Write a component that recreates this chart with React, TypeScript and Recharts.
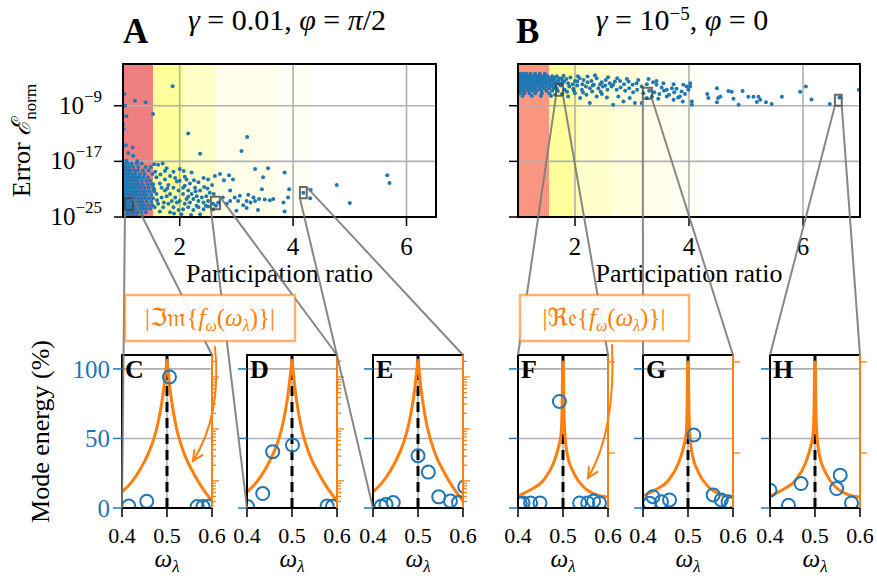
import React from "react";
import {
  ComposedChart,
  ScatterChart,
  Scatter,
  Line,
  XAxis,
  YAxis,
  ReferenceArea,
  ReferenceLine,
} from "recharts";

const BLUE = "#1f77b4";
const ORANGE = "#ff7f0e";
const GRID = "#b0b0b0";
const SERIF = "Liberation Serif, Tinos, Times New Roman, DejaVu Serif, serif";

// ---- top panels: participation ratio vs log10(error)
// dense cloud, rows of [log10 error, participation ratios]
const A_DENSE_ROWS: [number, number[]][] = [
  [-17.3, [1.02, 1.08, 1.15, 1.24, 1.33]],
  [-17.8, [1.0, 1.05, 1.11, 1.18, 1.27, 1.4, 1.49]],
  [-18.3, [1.03, 1.08, 1.13, 1.2, 1.26, 1.35, 1.45]],
  [-18.8, [1.0, 1.05, 1.1, 1.16, 1.22, 1.3, 1.38, 1.52]],
  [-19.3, [1.02, 1.07, 1.12, 1.18, 1.24, 1.29, 1.36, 1.44]],
  [-19.8, [1.0, 1.04, 1.09, 1.14, 1.2, 1.26, 1.33, 1.41, 1.48]],
  [-20.3, [1.02, 1.07, 1.12, 1.17, 1.23, 1.28, 1.35, 1.43, 1.5]],
  [-20.8, [1.0, 1.05, 1.1, 1.15, 1.2, 1.25, 1.31, 1.38, 1.45, 1.53]],
  [-21.3, [1.02, 1.07, 1.12, 1.17, 1.22, 1.28, 1.34, 1.4, 1.47, 1.55]],
  [-21.8, [1.0, 1.04, 1.09, 1.14, 1.19, 1.24, 1.3, 1.36, 1.42, 1.5]],
  [-22.3, [1.02, 1.06, 1.11, 1.16, 1.21, 1.27, 1.33, 1.39, 1.46, 1.53]],
  [-22.8, [1.0, 1.04, 1.08, 1.13, 1.18, 1.23, 1.29, 1.35, 1.42, 1.5]],
  [-23.3, [1.02, 1.06, 1.1, 1.15, 1.2, 1.26, 1.32, 1.38, 1.45, 1.52]],
  [-23.8, [1.0, 1.04, 1.08, 1.12, 1.17, 1.23, 1.29, 1.35, 1.41, 1.48]],
  [-24.3, [1.02, 1.06, 1.1, 1.15, 1.2, 1.26, 1.32, 1.4]],
  [-24.8, [1.0, 1.05, 1.1, 1.17, 1.24, 1.33]],
];

const A_MID: [number, number][] = [
  [1.55, -17.4], [1.62, -17.5], [1.7, -17.3], [1.57, -18.5], [1.77, -18.0], [1.89, -18.5],
  [2.0, -18.1], [2.07, -18.4], [2.21, -18.6], [2.09, -19.2], [2.25, -19.7], [2.33, -20.0],
  [2.42, -19.4], [2.5, -19.6], [2.57, -20.4], [2.62, -19.1], [2.43, -20.7], [2.49, -20.9],
  [2.53, -21.5], [2.6, -21.7], [2.36, -21.2], [2.27, -20.8], [2.18, -20.2], [2.09, -20.5],
  [2.0, -19.8], [1.92, -19.4], [1.83, -19.1], [1.74, -19.6], [1.65, -20.2], [1.59, -19.3],
  [1.8, -20.4], [1.89, -20.8], [1.98, -21.2], [2.06, -21.7], [2.15, -22.1], [2.24, -22.4],
  [2.33, -22.7], [2.42, -22.9], [2.5, -22.7], [2.59, -23.1], [2.68, -22.9], [2.18, -22.9],
  [2.09, -23.1], [2.0, -22.7], [1.92, -22.2], [1.83, -21.7], [1.74, -21.2], [1.68, -22.2],
  [1.59, -21.7], [1.62, -23.1], [1.71, -23.6], [1.8, -23.1], [1.89, -23.6], [1.98, -24.0],
  [2.06, -23.9], [2.15, -23.6], [2.24, -24.0], [2.33, -23.6], [2.42, -23.9], [2.5, -23.5],
  [2.59, -23.9], [2.36, -24.6], [2.03, -24.6], [1.83, -24.3], [1.65, -24.2], [1.56, -23.6],
  [1.77, -22.0], [1.86, -22.7], [1.95, -22.9], [2.12, -22.4], [2.21, -21.7], [2.3, -22.0],
  [2.39, -22.2], [2.47, -22.0], [2.3, -23.4], [2.46, -23.4], [2.64, -23.4], [2.06, -20.8],
  [2.15, -21.2], [1.68, -20.8], [1.78, -20.9], [1.53, -20.3], [1.55, -21.0], [1.6, -22.6],
  [1.72, -22.9], [1.66, -18.9], [1.74, -18.4], [1.95, -19.9], [2.12, -19.6], [2.28, -21.3],
  [1.9, -24.5], [2.2, -24.7],
];

const A_SPARSE: [number, number][] = [
  [1.02, -7.33], [1.035, -9.0], [1.06, -10.5], [1.21, -8.3], [1.4, -8.5], [1.53, -10.2],
  [1.875, -6.2], [2.15, -13.0], [2.36, -15.9], [3.19, -13.5], [3.09, -15.5], [1.0, -11.7],
  [1.01, -12.4], [1.05, -14.7], [1.17, -15.0], [1.09, -15.8], [1.18, -16.2], [1.06, -16.9],
  [1.25, -17.0], [2.71, -18.8], [2.87, -19.0], [2.78, -19.7], [2.94, -19.6], [3.33, -18.1],
  [3.56, -18.0], [3.85, -18.6], [3.47, -19.3], [3.45, -21.0], [3.21, -21.8], [3.06, -21.95],
  [2.89, -21.2], [2.97, -22.2], [3.18, -22.7], [3.3, -22.2], [3.33, -22.7], [3.5, -22.5],
  [3.65, -22.4], [3.83, -22.9], [3.91, -22.2], [3.93, -21.0], [3.85, -24.2], [3.38, -24.0],
  [3.18, -23.7], [3.0, -24.1], [2.83, -23.1], [4.18, -21.5], [4.31, -21.1], [4.3, -22.3],
  [4.77, -20.4], [5.0, -23.0], [5.66, -19.0], [5.7, -20.1], [2.89, -22.7], [3.03, -22.7],
  [3.12, -23.3], [2.76, -22.2], [3.59, -22.6], [3.25, -22.9], [3.4, -22.4],
];

const B_DENSE_ROWS: [number, number[]][] = [
  [-4.4, [1.0, 1.04, 1.09, 1.15, 1.22, 1.3, 1.38, 1.47]],
  [-4.75, [1.0, 1.05, 1.1, 1.15, 1.2, 1.25, 1.3, 1.35, 1.4, 1.46, 1.52, 1.6, 1.68]],
  [-5.1, [1.02, 1.07, 1.12, 1.17, 1.22, 1.27, 1.32, 1.37, 1.42, 1.47, 1.53, 1.58, 1.64, 1.72]],
  [-5.45, [1.0, 1.05, 1.1, 1.15, 1.2, 1.25, 1.3, 1.35, 1.4, 1.45, 1.5, 1.56, 1.62, 1.7, 1.78]],
  [-5.8, [1.02, 1.07, 1.12, 1.17, 1.22, 1.27, 1.32, 1.37, 1.42, 1.48, 1.54, 1.6, 1.67, 1.75]],
  [-6.15, [1.0, 1.05, 1.1, 1.15, 1.2, 1.25, 1.31, 1.37, 1.43, 1.5, 1.57, 1.65]],
  [-6.5, [1.03, 1.09, 1.16, 1.23, 1.3, 1.38, 1.46, 1.55, 1.63]],
  [-6.85, [1.0, 1.06, 1.12, 1.19, 1.26, 1.33, 1.41, 1.5, 1.6]],
  [-7.2, [1.03, 1.11, 1.2, 1.3, 1.42, 1.55]],
  [-7.6, [1.08, 1.24, 1.4, 1.58]],
];

const B_MID: [number, number][] = [
  [1.62, -4.95], [1.71, -5.29], [1.77, -5.05], [1.85, -5.14], [1.92, -4.95], [2.0, -5.43],
  [2.08, -5.05], [2.15, -5.29], [2.22, -4.81], [2.29, -5.43], [2.38, -5.05], [2.47, -5.62],
  [2.54, -5.29], [2.61, -5.76], [2.7, -5.52], [2.79, -5.43], [2.86, -5.9], [2.94, -5.52],
  [3.01, -6.0], [3.08, -5.76], [3.17, -6.24], [3.26, -5.9], [3.37, -5.62], [3.43, -6.0],
  [3.52, -6.38], [3.61, -6.71], [3.7, -6.48], [3.78, -6.57], [3.87, -6.95], [3.96, -6.24],
  [3.99, -6.71], [1.62, -6.24], [1.68, -6.48], [1.75, -6.1], [1.82, -6.71], [1.9, -6.24],
  [1.97, -6.57], [2.04, -6.1], [2.12, -6.71], [2.19, -6.24], [2.26, -6.48], [2.33, -6.0],
  [2.41, -6.48], [2.49, -6.24], [2.57, -6.71], [2.64, -6.24], [2.73, -6.71], [2.8, -6.38],
  [2.88, -6.86], [2.95, -6.48], [3.02, -7.05], [3.09, -6.71], [3.2, -7.19], [3.3, -6.86],
  [3.39, -7.05], [3.48, -7.33], [3.56, -6.86], [3.65, -7.43], [3.74, -7.05], [3.84, -7.67],
  [3.93, -7.33], [1.65, -5.62], [1.73, -5.9], [1.81, -5.52], [1.88, -5.76], [1.96, -5.9],
  [2.04, -5.52], [2.13, -5.9], [2.22, -5.62], [2.31, -6.1], [2.44, -5.9], [2.53, -6.1],
  [2.67, -6.0], [2.74, -5.05], [2.91, -5.14], [3.11, -5.29], [3.29, -5.14], [3.43, -5.43],
  [3.55, -5.76], [3.73, -5.9], [3.9, -6.0], [4.02, -5.76], [1.65, -7.43], [1.77, -7.33],
  [1.88, -7.67], [2.0, -7.19], [2.09, -7.9], [2.2, -7.43], [2.26, -8.62], [2.38, -7.67],
  [2.47, -7.33], [2.56, -7.81], [2.67, -8.86], [2.76, -7.67], [2.85, -8.38], [2.96, -7.9],
  [3.05, -8.62], [3.17, -8.62], [3.26, -7.9], [3.35, -7.67], [3.46, -8.0], [3.61, -7.67],
  [3.73, -8.14], [3.81, -7.81], [3.89, -8.38], [4.05, -8.86], [1.7, -6.9], [1.86, -7.0],
  [1.98, -6.85], [2.14, -7.1], [2.3, -6.95], [2.45, -7.0], [1.8, -4.7], [2.05, -4.75],
  [2.35, -4.6], [2.58, -4.9],
];

const B_SPARSE: [number, number][] = [
  [4.05, -8.38], [4.02, -6.24], [4.32, -7.33], [4.34, -7.9], [4.49, -6.5], [4.51, -7.9],
  [4.49, -8.5], [4.55, -7.67], [4.69, -6.9], [4.75, -7.0], [4.78, -8.0], [4.87, -8.86],
  [4.94, -6.9], [5.04, -7.7], [5.13, -7.7], [5.22, -7.7], [5.19, -8.48], [5.25, -8.14],
  [5.35, -8.5], [5.45, -8.76], [5.63, -7.7], [5.95, -7.0], [6.05, -6.24], [6.15, -8.1],
  [6.47, -8.76], [6.64, -7.8], [6.98, -6.7],
];

// shaded regions along the participation ratio axis
const A_BAND_EDGES = [1, 1.53, 2.07, 2.1, 2.64, 3.71, 4.3];
const B_BAND_EDGES = [1, 1.55, 1.98, 2.08, 2.64, 3.2, 3.72, 4.2];
const A_BAND_COLORS = ["#f08080", "#ffff9c", "#ffffb0", "#ffffc8", "#fffee8", "#fffff6"];
const B_BAND_COLORS = ["#fa9580", "#ffff9c", "#ffffb0", "#ffffcc", "#ffffdc", "#fffeea", "#fffff6"];

// zoom windows: [pr from, pr to, log10 err top, log10 err bottom]
const A_ZOOMS: [number, number, number, number][] = [
  [1.035, 1.176, -22.3, -24.0],
  [2.55, 2.71, -22.1, -23.9],
  [4.12, 4.24, -20.7, -22.3],
];
const B_ZOOMS: [number, number, number, number][] = [
  [1.667, 1.79, -5.86, -7.57],
  [3.19, 3.35, -6.43, -8.0],
  [6.56, 6.68, -7.43, -9.0],
];

// ---- bottom panels: mode energy (%) vs omega_lambda
const C_OMEGA = [0.415, 0.455, 0.5055, 0.567, 0.58, 0.592];
const C_ENERGY = [1.4, 4.8, 94.2, 1.0, 1.0, 1.2];
const D_OMEGA = [0.401, 0.435, 0.457, 0.501, 0.578, 0.59];
const D_ENERGY = [1.0, 10.4, 40.5, 45.3, 1.4, 1.2];
const E_OMEGA = [0.418, 0.429, 0.445, 0.5, 0.523, 0.546, 0.572, 0.59, 0.604];
const E_ENERGY = [1.2, 2.6, 3.9, 37.6, 25.8, 8.0, 5.0, 3.9, 15.3];
const F_OMEGA = [0.405, 0.411, 0.428, 0.449, 0.492, 0.537, 0.555, 0.568, 0.581];
const F_ENERGY = [3.0, 3.6, 3.6, 3.6, 76.6, 3.6, 3.6, 5.0, 3.6];
const G_OMEGA = [0.415, 0.422, 0.441, 0.459, 0.513, 0.556, 0.574, 0.589, 0.596];
const G_ENERGY = [3.4, 8.1, 4.5, 5.8, 52.5, 9.4, 5.8, 4.5, 3.0];
const H_OMEGA = [0.4, 0.441, 0.469, 0.548, 0.556, 0.581];
const H_ENERGY = [12.8, 1.9, 17.6, 14.0, 23.6, 3.6];

// |Im f| for gamma = 0.01 and |Re f| for gamma = 1e-5 (right axis, log)
const IM_OMEGA = [0.4, 0.42, 0.44, 0.46, 0.47, 0.48, 0.49, 0.495, 0.498, 0.5, 0.502, 0.505, 0.51, 0.52, 0.53, 0.54, 0.56, 0.58, 0.6];
const IM_F = [0.614, 0.915, 1.63, 3.61, 6.14, 13.0, 39.5, 87.5, 149, 212, 149, 80.1, 36.1, 11.4, 5.38, 3.03, 1.36, 0.7, 0.41];
const RE_OMEGA = [0.4, 0.427, 0.457, 0.479, 0.49, 0.496, 0.498, 0.4995, 0.5005, 0.502, 0.504, 0.509, 0.524, 0.546, 0.576, 0.6];
const RE_F = [3.37, 3.92, 5.05, 7.77, 11.6, 16.6, 32, 100, 100, 32, 16.6, 10, 6.03, 4.23, 3.45, 3.28];

const IM_TICKS = [0.4, 0.5, 0.6, 0.7, 0.8, 0.9, 1, 2, 3, 4, 5, 6, 7, 8, 9, 10, 20, 30, 40, 50, 60, 70, 80, 90, 100, 200];
const RE_TICKS = [10, 100];

// layout
const TOP_Y = 64;
const BOT_Y = 217;
const E_MIN = -25;
const E_MAX = -3;
const A_GEOM = { div: 0, left: 123, right: 436, xMax: 6.52 };
const B_GEOM = { div: 440, left: 518, right: 860, xMax: 7 };
const SMALL_TOP = 355;
const SMALL_BOTTOM = 508;
const SMALL_W = 90;
const SMALL_LEFTS = [122, 247, 373, 518, 643, 770];

const rowsToPoints = (rows: [number, number[]][]) =>
  rows.flatMap(([e, xs]) => xs.map((x) => ({ pr: x, err: Math.pow(10, e) })));
const pairsToPoints = (pairs: [number, number][]) =>
  pairs.map(([x, e]) => ({ pr: x, err: Math.pow(10, e) }));

const A_POINTS = [...rowsToPoints(A_DENSE_ROWS), ...pairsToPoints(A_MID), ...pairsToPoints(A_SPARSE)];
const B_POINTS = [...rowsToPoints(B_DENSE_ROWS), ...pairsToPoints(B_MID), ...pairsToPoints(B_SPARSE)];

function PowTick(props: any) {
  const { x, y, payload, show } = props;
  if (!show) return <g />;
  const e = Math.round(Math.log10(payload.value));
  return (
    <text x={x} y={y} textAnchor="end" style={{ fontFamily: SERIF }} fontSize={25} fill="#000">
      <tspan dy={8}>10</tspan>
      <tspan dy={-12} fontSize={17}>{"\u2212" + Math.abs(e)}</tspan>
    </text>
  );
}

function LogTick(props: any) {
  const { x, y, payload } = props;
  const l = Math.log10(payload.value);
  const major = Math.abs(l - Math.round(l)) < 1e-6;
  return <line x1={x} x2={x + (major ? 7 : 4)} y1={y} y2={y} stroke={ORANGE} strokeWidth={1.3} />;
}

const dot = (p: any) => <circle cx={p.cx} cy={p.cy} r={2} fill={BLUE} />;
const ring = (p: any) => (
  <circle cx={p.cx} cy={p.cy} r={6.5} fill="none" stroke={BLUE} strokeWidth={2} />
);

function ErrorPanel({ geom, points, edges, colors, zooms, showYLabels }: any) {
  const marginLeft = geom.left - geom.div - 60;
  const width = geom.right - geom.div + 10;
  return (
    <div style={{ position: "absolute", left: geom.div, top: 0 }}>
      <ScatterChart width={width} height={300} margin={{ top: TOP_Y, right: 10, bottom: 43, left: marginLeft }}>
        <XAxis
          type="number"
          dataKey="pr"
          domain={[1, geom.xMax]}
          ticks={[2, 4, 6]}
          interval={0}
          allowDataOverflow
          height={40}
          tickSize={9}
          tickMargin={11}
          axisLine={false}
          tickLine={{ stroke: "#000", strokeWidth: 1.5 }}
          tick={{ style: { fontFamily: SERIF }, fontSize: 25, fill: "#000" }}
        />
        <YAxis
          type="number"
          dataKey="err"
          scale="log"
          domain={[1e-25, 1e-3]}
          ticks={[1e-25, 1e-17, 1e-9]}
          interval={0}
          allowDataOverflow
          width={60}
          tickSize={9}
          tickMargin={12}
          axisLine={false}
          tickLine={{ stroke: "#000", strokeWidth: 1.5 }}
          tick={<PowTick show={showYLabels} />}
        />
        {colors.map((c: string, i: number) => (
          <ReferenceArea key={"band" + i} x1={edges[i]} x2={edges[i + 1]} fill={c} fillOpacity={1} stroke="none" zIndex={10} />
        ))}
        {[2, 4, 6].map((x) => (
          <ReferenceLine key={"gx" + x} x={x} stroke={GRID} strokeWidth={1.6} zIndex={20} />
        ))}
        {[1e-17, 1e-9].map((y) => (
          <ReferenceLine key={"gy" + y} y={y} stroke={GRID} strokeWidth={1.6} zIndex={20} />
        ))}
        <Scatter data={points} isAnimationActive={false} shape={dot} zIndex={30} />
        {zooms.map((z: number[], i: number) => (
          <ReferenceArea
            key={"zoom" + i}
            x1={z[0]}
            x2={z[1]}
            y1={Math.pow(10, z[3])}
            y2={Math.pow(10, z[2])}
            fill="none"
            stroke="#444"
            strokeOpacity={0.8}
            strokeWidth={2}
            zIndex={40}
          />
        ))}
        <ReferenceArea x1={1} x2={geom.xMax} y1={1e-25} y2={1e-3} fill="none" stroke="#000" strokeWidth={2} zIndex={50} />
      </ScatterChart>
    </div>
  );
}

function ModePanel({ left, omega, energy, curveW, curveF, fDomain, fTicks, showYLabels }: any) {
  const circles = omega.map((w: number, i: number) => ({ w, e: energy[i] }));
  const curve = curveW.map((w: number, i: number) => ({ w, f: curveF[i] }));
  return (
    <div style={{ position: "absolute", left: left - 65, top: SMALL_TOP - 15 }}>
      <ComposedChart width={180} height={215} margin={{ top: 15, right: 5, bottom: 2, left: 30 }}>
        <XAxis
          type="number"
          dataKey="w"
          domain={[0.4, 0.6]}
          ticks={[0.4, 0.5, 0.6]}
          interval={0}
          allowDataOverflow
          height={45}
          tickSize={9}
          tickMargin={10}
          axisLine={false}
          tickLine={{ stroke: "#000", strokeWidth: 1.5 }}
          tickFormatter={(v: number) => v.toFixed(1)}
          tick={{ style: { fontFamily: SERIF }, fontSize: 22, fill: "#000" }}
        />
        <YAxis
          yAxisId="e"
          type="number"
          domain={[0, 110]}
          ticks={[0, 50, 100]}
          interval={0}
          allowDataOverflow
          width={35}
          tickSize={9}
          tickMargin={3}
          axisLine={false}
          tickLine={{ stroke: BLUE, strokeWidth: 1.5 }}
          tickFormatter={(v: number) => (showYLabels ? String(v) : "")}
          tick={{ style: { fontFamily: SERIF }, fontSize: 25, fill: BLUE }}
        />
        <YAxis
          yAxisId="f"
          orientation="right"
          type="number"
          scale="log"
          domain={fDomain}
          ticks={fTicks}
          interval={0}
          allowDataOverflow
          width={20}
          tickSize={0}
          tickMargin={0}
          axisLine={false}
          tickLine={false}
          tick={<LogTick />}
        />
        <ReferenceLine yAxisId="e" y={50} stroke={GRID} strokeWidth={1.6} zIndex={10} />
        <ReferenceLine yAxisId="e" y={100} stroke={GRID} strokeWidth={1.6} zIndex={10} />
        <ReferenceLine yAxisId="e" x={0.5} stroke={GRID} strokeWidth={1.6} zIndex={10} />
        <ReferenceLine yAxisId="e" x={0.5} stroke="#000" strokeWidth={3} strokeDasharray="10 6" zIndex={20} />
        <Line
          yAxisId="f"
          data={curve}
          dataKey="f"
          type="monotoneX"
          stroke={ORANGE}
          strokeWidth={3}
          dot={false}
          isAnimationActive={false}
          zIndex={30}
        />
        <Scatter yAxisId="e" data={circles} dataKey="e" shape={ring} isAnimationActive={false} zIndex={40} />
        <ReferenceArea yAxisId="e" x1={0.4} x2={0.6} y1={0} y2={110} fill="none" stroke="#000" strokeWidth={2} zIndex={50} />
        <ReferenceLine yAxisId="e" x={0.6} stroke={ORANGE} strokeWidth={2} zIndex={60} />
      </ComposedChart>
    </div>
  );
}

const xPx = (g: any, x: number) => g.left + ((x - 1) / (g.xMax - 1)) * (g.right - g.left);
const yPx = (e: number) => TOP_Y + ((E_MAX - e) / (E_MAX - E_MIN)) * (BOT_Y - TOP_Y);

function Arrow({ x0, y0, cx, cy, x1, y1 }: any) {
  const ang = Math.atan2(y1 - cy, x1 - cx);
  const len = 11;
  const a1 = ang + Math.PI - 0.45;
  const a2 = ang + Math.PI + 0.45;
  return (
    <g stroke={ORANGE} strokeWidth={2} fill="none" strokeLinecap="round">
      <path d={`M ${x0} ${y0} Q ${cx} ${cy} ${x1} ${y1}`} />
      <path
        d={`M ${x1 + len * Math.cos(a1)} ${y1 + len * Math.sin(a1)} L ${x1} ${y1} L ${x1 + len * Math.cos(a2)} ${y1 + len * Math.sin(a2)}`}
      />
    </g>
  );
}

function Overlay() {
  const links: number[][] = [];
  A_ZOOMS.forEach((z, i) => {
    const pl = SMALL_LEFTS[i];
    links.push([xPx(A_GEOM, z[1]), yPx(z[2]), pl + SMALL_W, SMALL_TOP]);
    links.push([xPx(A_GEOM, z[0]), yPx(z[3]), pl, SMALL_BOTTOM]);
  });
  B_ZOOMS.forEach((z, i) => {
    const pl = SMALL_LEFTS[i + 3];
    links.push([xPx(B_GEOM, z[0]), yPx(z[3]), pl, SMALL_TOP]);
    links.push([xPx(B_GEOM, z[1]), yPx(z[3]), pl + SMALL_W, SMALL_TOP]);
  });
  const aMid = (A_GEOM.left + A_GEOM.right) / 2;
  const bMid = (B_GEOM.left + B_GEOM.right) / 2;
  const smallMid = (SMALL_TOP + SMALL_BOTTOM) / 2;
  const cRight = SMALL_LEFTS[0] + SMALL_W;
  const fRight = SMALL_LEFTS[3] + SMALL_W;
  return (
    <svg width={877} height={580} style={{ position: "absolute", left: 0, top: 0, pointerEvents: "none" }}>
      <g style={{ fontFamily: SERIF }} fill="#000">
        <text x={123} y={43} fontSize={35} fontWeight="bold">A</text>
        <text x={287} y={30} fontSize={30} textAnchor="middle">
          <tspan fontStyle="italic">γ</tspan> = 0.01, <tspan fontStyle="italic">φ</tspan> = <tspan fontStyle="italic">π</tspan>/2
        </text>
        <text x={516} y={43} fontSize={35} fontWeight="bold">B</text>
        <text x={682} y={30} fontSize={30} textAnchor="middle">
          <tspan fontStyle="italic">γ</tspan> = 10<tspan dy={-10} fontSize={19}>−5</tspan>
          <tspan dy={10}>, </tspan><tspan fontStyle="italic">φ</tspan> = 0
        </text>
        <text transform={`translate(30 ${(TOP_Y + BOT_Y) / 2}) rotate(-90)`} fontSize={26} textAnchor="middle">
          Error <tspan fontStyle="italic">ℰ</tspan><tspan dy={6} fontSize={17}>norm</tspan>
        </text>
        <text x={aMid} y={282} fontSize={26} textAnchor="middle">Participation ratio</text>
        <text x={bMid} y={282} fontSize={26} textAnchor="middle">Participation ratio</text>
        <text transform={`translate(49 ${smallMid}) rotate(-90)`} fontSize={26} textAnchor="middle">
          Mode energy (%)
        </text>
        {["C", "D", "E", "F", "G", "H"].map((l, i) => (
          <text key={l} x={SMALL_LEFTS[i] + 3} y={SMALL_TOP + 23} fontSize={26} fontWeight="bold">{l}</text>
        ))}
        {SMALL_LEFTS.map((l) => (
          <text key={"w" + l} x={l + SMALL_W / 2} y={567} fontSize={25} textAnchor="middle">
            <tspan fontStyle="italic">ω</tspan><tspan dy={5} fontSize={17} fontStyle="italic">λ</tspan>
          </text>
        ))}
      </g>
      <g stroke="#7a7a7a" strokeWidth={2} strokeOpacity={0.9}>
        {links.map((l, i) => (
          <line key={i} x1={l[0]} y1={l[1]} x2={l[2]} y2={l[3]} />
        ))}
      </g>
      <rect x={125} y={295} width={170} height={46} fill="#fff" fillOpacity={0.92} stroke={ORANGE} strokeOpacity={0.6} strokeWidth={2.5} />
      <rect x={520} y={295} width={169} height={46} fill="#fff" fillOpacity={0.92} stroke={ORANGE} strokeOpacity={0.6} strokeWidth={2.5} />
      <g style={{ fontFamily: SERIF }} fontSize={25} fill={ORANGE} textAnchor="middle">
        <text x={210} y={326}>
          |<tspan style={{ fontFamily: "DejaVu Sans, serif" }}>ℑ𝔪</tspan>{"{"}<tspan fontStyle="italic">f</tspan>
          <tspan dy={5} fontSize={16} fontStyle="italic">ω</tspan>
          <tspan dy={-5}>(</tspan><tspan fontStyle="italic">ω</tspan>
          <tspan dy={5} fontSize={16} fontStyle="italic">λ</tspan>
          <tspan dy={-5}>){"}"}|</tspan>
        </text>
        <text x={604} y={326}>
          |<tspan style={{ fontFamily: "DejaVu Sans, serif" }}>ℜ𝔢</tspan>{"{"}<tspan fontStyle="italic">f</tspan>
          <tspan dy={5} fontSize={16} fontStyle="italic">ω</tspan>
          <tspan dy={-5}>(</tspan><tspan fontStyle="italic">ω</tspan>
          <tspan dy={5} fontSize={16} fontStyle="italic">λ</tspan>
          <tspan dy={-5}>){"}"}|</tspan>
        </text>
      </g>
      <Arrow x0={cRight + 3} y0={SMALL_TOP - 8} cx={cRight + 10} cy={SMALL_TOP + 60} x1={cRight - 19} y1={SMALL_TOP + 106} />
      <Arrow x0={fRight + 4} y0={SMALL_TOP - 10} cx={fRight + 8} cy={SMALL_TOP + 75} x1={fRight - 20} y1={SMALL_TOP + 123} />
    </svg>
  );
}

export default function App() {
  return (
    <div style={{ position: "absolute", left: 0, top: 0, width: 877, height: 580, background: "#fff", overflow: "hidden" }}>
      <ErrorPanel geom={A_GEOM} points={A_POINTS} edges={A_BAND_EDGES} colors={A_BAND_COLORS} zooms={A_ZOOMS} showYLabels />
      <ErrorPanel geom={B_GEOM} points={B_POINTS} edges={B_BAND_EDGES} colors={B_BAND_COLORS} zooms={B_ZOOMS} showYLabels={false} />
      <ModePanel left={SMALL_LEFTS[0]} omega={C_OMEGA} energy={C_ENERGY} curveW={IM_OMEGA} curveF={IM_F} fDomain={[0.3, 265]} fTicks={IM_TICKS} showYLabels />
      <ModePanel left={SMALL_LEFTS[1]} omega={D_OMEGA} energy={D_ENERGY} curveW={IM_OMEGA} curveF={IM_F} fDomain={[0.3, 265]} fTicks={IM_TICKS} />
      <ModePanel left={SMALL_LEFTS[2]} omega={E_OMEGA} energy={E_ENERGY} curveW={IM_OMEGA} curveF={IM_F} fDomain={[0.3, 265]} fTicks={IM_TICKS} />
      <ModePanel left={SMALL_LEFTS[3]} omega={F_OMEGA} energy={F_ENERGY} curveW={RE_OMEGA} curveF={RE_F} fDomain={[2.49, 119.4]} fTicks={RE_TICKS} />
      <ModePanel left={SMALL_LEFTS[4]} omega={G_OMEGA} energy={G_ENERGY} curveW={RE_OMEGA} curveF={RE_F} fDomain={[2.49, 119.4]} fTicks={RE_TICKS} />
      <ModePanel left={SMALL_LEFTS[5]} omega={H_OMEGA} energy={H_ENERGY} curveW={RE_OMEGA} curveF={RE_F} fDomain={[2.49, 119.4]} fTicks={RE_TICKS} />
      <Overlay />
    </div>
  );
}
